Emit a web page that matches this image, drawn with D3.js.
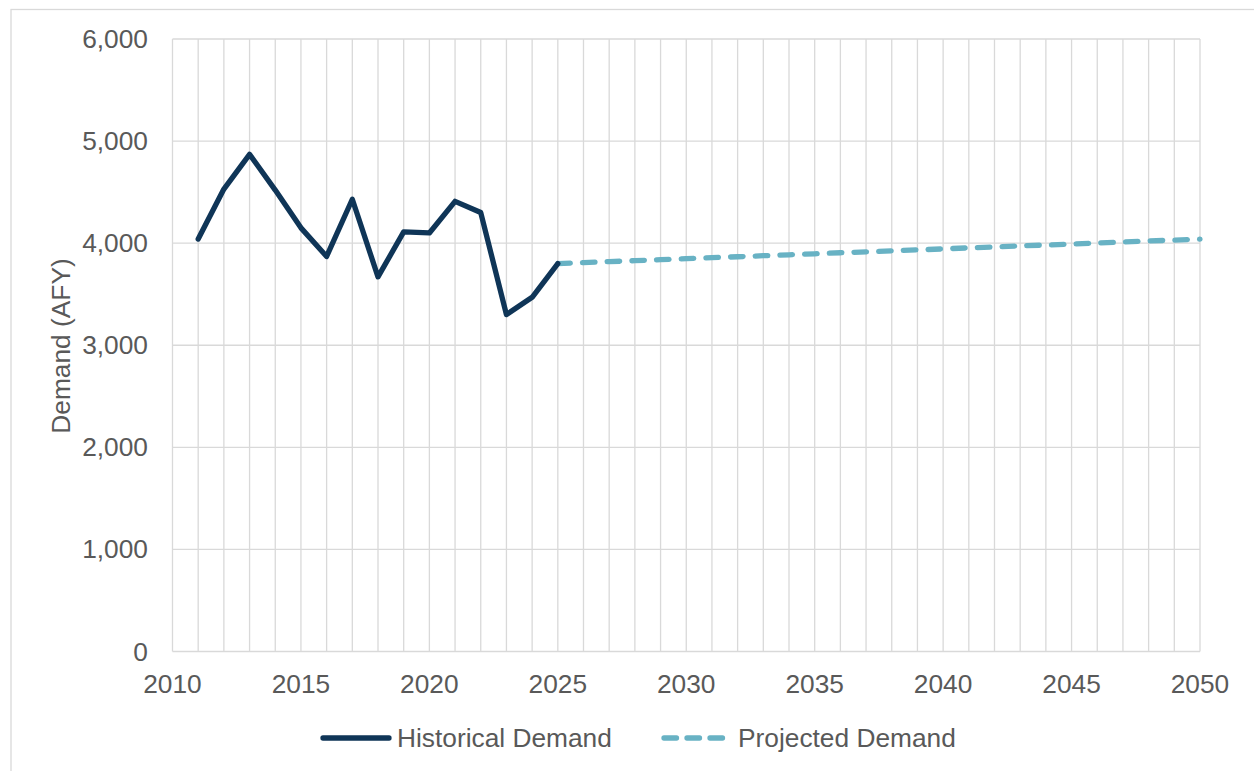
<!DOCTYPE html>
<html>
<head>
<meta charset="utf-8">
<script src="https://cdn.jsdelivr.net/npm/d3@7"></script>
<style>
  html, body { margin: 0; padding: 0; background: #fff; }
  svg { display: block; }
  text { font-family: "Liberation Sans", Arial, sans-serif; fill: #595959; }
</style>
</head>
<body>
<svg id="chart" width="1254" height="771"></svg>
<script>
const histYears = [2011, 2012, 2013, 2014, 2015, 2016, 2017, 2018, 2019, 2020, 2021, 2022, 2023, 2024, 2025];
const histValues = [4040, 4530, 4870, 4520, 4150, 3870, 4430, 3670, 4110, 4100, 4410, 4300, 3300, 3470, 3800];
const projYears = [2025, 2026, 2027, 2028, 2029, 2030, 2031, 2032, 2033, 2034, 2035, 2036, 2037, 2038, 2039, 2040, 2041, 2042, 2043, 2044, 2045, 2046, 2047, 2048, 2049, 2050];
const projValues = [3800, 3810, 3819, 3829, 3838, 3848, 3858, 3867, 3877, 3886, 3896, 3906, 3915, 3925, 3934, 3944, 3954, 3963, 3973, 3982, 3992, 4002, 4011, 4021, 4030, 4040];
const xTicks = [2010, 2015, 2020, 2025, 2030, 2035, 2040, 2045, 2050];
const yTicks = [0, 1000, 2000, 3000, 4000, 5000, 6000];
const seriesNames = ["Historical Demand", "Projected Demand"];
const yTitle = "Demand (AFY)";

(function () {
const colHist = "#0f3557";
const colProj = "#68b2c4";
const gridCol = "#d9d9d9";
const fs = 26.3;

const svg = d3.select("#chart");

// outer chart border
svg.append("rect").attr("x", 11).attr("y", 9.5).attr("width", 1260).attr("height", 780)
  .attr("fill", "none").attr("stroke", gridCol).attr("stroke-width", 1.3);

const pLeft = 172.5, pRight = 1200, pTop = 39, pBottom = 651.5;
const x = d3.scaleLinear().domain([2010, 2050]).range([pLeft, pRight]);
const y = d3.scaleLinear().domain([0, 6000]).range([pBottom, pTop]);

// vertical gridlines for each year
const allYears = d3.range(2010, 2051);
svg.append("g").selectAll("line").data(allYears).join("line")
  .attr("x1", d => x(d)).attr("x2", d => x(d))
  .attr("y1", pTop).attr("y2", pBottom)
  .attr("stroke", gridCol).attr("stroke-width", 1.3);

// horizontal gridlines
svg.append("g").selectAll("line").data(yTicks).join("line")
  .attr("x1", pLeft).attr("x2", pRight)
  .attr("y1", d => y(d)).attr("y2", d => y(d))
  .attr("stroke", gridCol).attr("stroke-width", 1.3);

// y axis labels
const fmt = d3.format(",");
svg.append("g").selectAll("text").data(yTicks).join("text")
  .attr("x", 148).attr("y", d => y(d))
  .attr("text-anchor", "end").attr("dominant-baseline", "central")
  .attr("font-size", fs)
  .text(d => fmt(d));

// x axis labels
svg.append("g").selectAll("text").data(xTicks).join("text")
  .attr("x", d => x(d)).attr("y", 684)
  .attr("text-anchor", "middle").attr("dominant-baseline", "central")
  .attr("font-size", fs)
  .text(d => d);

// y title
svg.append("text")
  .attr("transform", `translate(61,346) rotate(-90)`)
  .attr("text-anchor", "middle").attr("dominant-baseline", "central")
  .attr("font-size", fs)
  .text(yTitle);

const line = d3.line().x(d => x(d[0])).y(d => y(d[1]));

svg.append("path")
  .datum(projYears.map((yr, i) => [yr, projValues[i]]))
  .attr("d", line)
  .attr("fill", "none").attr("stroke", colProj).attr("stroke-width", 5.3)
  .attr("stroke-linecap", "round").attr("stroke-dasharray", "12.5,12.2");

svg.append("path")
  .datum(histYears.map((yr, i) => [yr, histValues[i]]))
  .attr("d", line)
  .attr("fill", "none").attr("stroke", colHist).attr("stroke-width", 5.3)
  .attr("stroke-linejoin", "round").attr("stroke-linecap", "round");

// legend
const lg = svg.append("g");
lg.append("line").attr("x1", 323).attr("x2", 389).attr("y1", 738).attr("y2", 738)
  .attr("stroke", colHist).attr("stroke-width", 5.3).attr("stroke-linecap", "round");
lg.append("text").attr("x", 397).attr("y", 738).attr("dominant-baseline", "central")
  .attr("font-size", fs).text(seriesNames[0]);
lg.append("line").attr("x1", 664).attr("x2", 727).attr("y1", 738).attr("y2", 738)
  .attr("stroke", colProj).attr("stroke-width", 5.3).attr("stroke-linecap", "round")
  .attr("stroke-dasharray", "12.5,10.5");
lg.append("text").attr("x", 738).attr("y", 738).attr("dominant-baseline", "central")
  .attr("font-size", fs).text(seriesNames[1]);
})();
</script>
</body>
</html>
